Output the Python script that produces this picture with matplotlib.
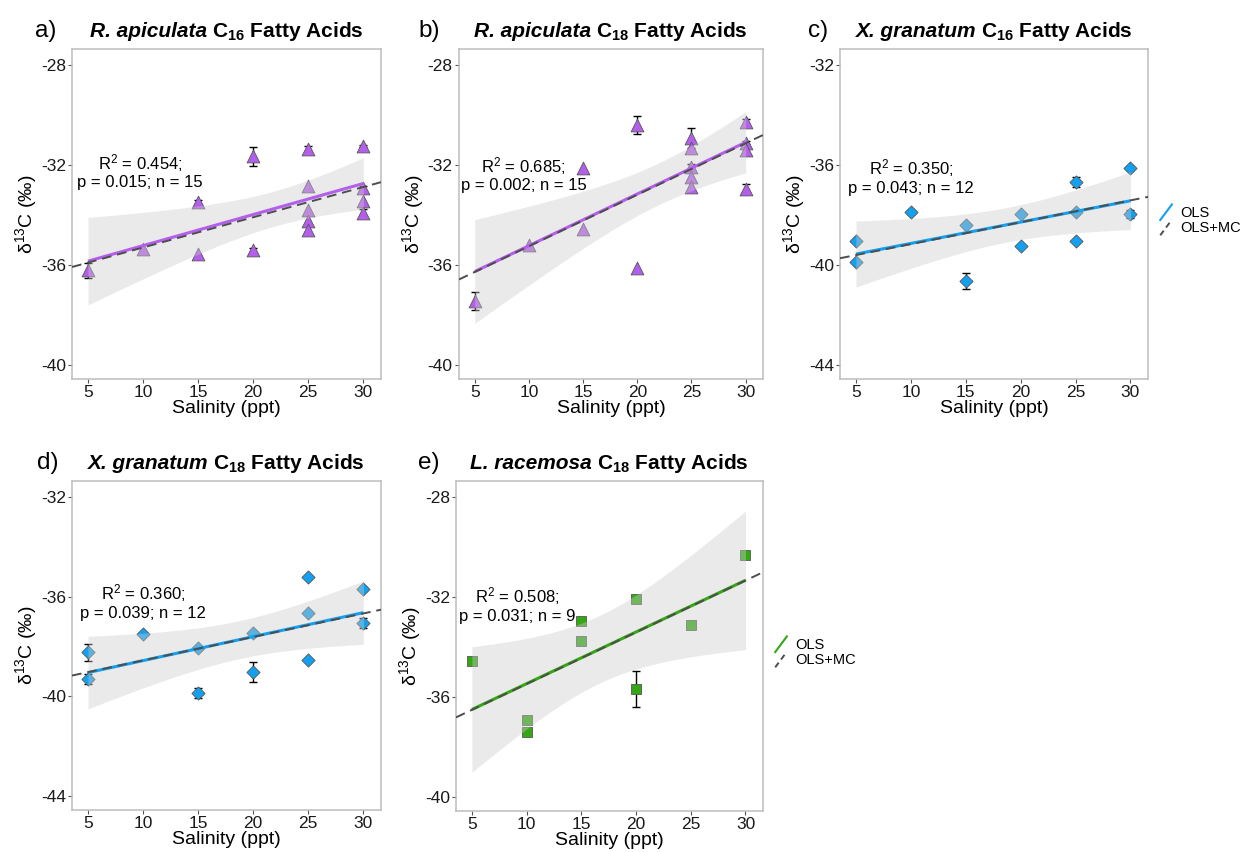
import numpy as np
import matplotlib
matplotlib.use("Agg")
import matplotlib.pyplot as plt
from matplotlib.lines import Line2D
from matplotlib.legend_handler import HandlerBase

plt.rcParams['font.family'] = ['Liberation Sans', 'DejaVu Sans']
plt.rcParams['mathtext.fontset'] = 'custom'
plt.rcParams['mathtext.rm'] = 'Liberation Sans'
plt.rcParams['mathtext.it'] = 'Liberation Sans:italic:bold'
plt.rcParams['mathtext.bf'] = 'Liberation Sans:bold'
plt.rcParams['mathtext.default'] = 'regular'

#%% data: salinity (ppt), d13C (permil), SD of replicates (0 = no bar)

ra16_sal = [5, 10, 15, 15, 20, 20, 25, 25, 25, 25, 25, 30, 30, 30, 30]
ra16_d13c = [-36.2, -35.36, -33.48, -35.56, -31.64, -35.4, -31.36, -32.84,
             -33.8, -34.24, -34.6, -31.24, -32.92, -33.44, -33.92]
ra16_err = [0.3, 0, 0.08, 0, 0.38, 0.08, 0.12, 0, 0, 0, 0, 0.05, 0.1, 0, 0.15]
ra16_mc = (0.121, -36.51)   # slope, intercept of the OLS+MC fit

ra18_sal = [5, 10, 15, 15, 20, 20, 25, 25, 25, 25, 25, 30, 30, 30, 30]
ra18_d13c = [-37.44, -35.2, -32.1, -34.56, -30.4, -36.1, -30.9, -31.33,
             -32.08, -32.48, -32.88, -30.27, -31.1, -31.4, -32.95]
ra18_err = [0.37, 0, 0, 0, 0.35, 0, 0.4, 0, 0.12, 0, 0, 0.12, 0.05, 0, 0.2]
ra18_mc = (0.206, -37.31)

xg16_sal = [5, 5, 10, 15, 15, 20, 20, 25, 25, 25, 30, 30]
xg16_d13c = [-39.04, -39.87, -37.87, -38.4, -40.64, -37.97, -39.24, -36.67,
             -37.87, -39.04, -36.13, -37.95]
xg16_err = [0, 0, 0.08, 0, 0.33, 0, 0, 0.2, 0, 0, 0.08, 0.15]
xg16_mc = (0.0875, -40.04)

xg18_sal = [5, 5, 10, 15, 15, 20, 20, 25, 25, 25, 30, 30]
xg18_d13c = [-38.24, -39.31, -37.5, -38.07, -39.88, -37.47, -39.04, -35.21,
             -36.67, -38.53, -35.7, -37.07]
xg18_err = [0.33, 0.2, 0, 0, 0.2, 0.08, 0.4, 0, 0, 0, 0.08, 0.2]
xg18_mc = (0.0942, -39.50)

lr18_sal = [5, 10, 10, 15, 15, 20, 20, 25, 30]
lr18_d13c = [-34.55, -36.9, -37.4, -32.97, -33.77, -32.09, -35.67, -33.12, -30.33]
lr18_err = [0.08, 0, 0, 0.1, 0, 0.08, 0.73, 0.1, 0.08]
lr18_mc = (0.207, -37.55)

stats_txt = ["R$^2$ = 0.454;\np = 0.015; n = 15",
             "R$^2$ = 0.685;\np = 0.002; n = 15",
             "R$^2$ = 0.350;\np = 0.043; n = 12",
             "R$^2$ = 0.360;\np = 0.039; n = 12",
             "R$^2$ = 0.508;\np = 0.031; n = 9"]
stats_xy = [(9.74, -32.24), (9.52, -32.36), (10.03, -36.45), (10.0, -36.2), (9.12, -32.29)]

species = ["R. apiculata", "R. apiculata", "X. granatum", "X. granatum", "L. racemosa"]
fa_label = [r"$\mathbf{C_{16}}$ Fatty Acids", r"$\mathbf{C_{18}}$ Fatty Acids",
            r"$\mathbf{C_{16}}$ Fatty Acids", r"$\mathbf{C_{18}}$ Fatty Acids",
            r"$\mathbf{C_{18}}$ Fatty Acids"]
tags = ["a)", "b)", "c)", "d)", "e)"]

yticks_hi = [-40, -36, -32, -28]
yticks_lo = [-44, -40, -36, -32]
xticks = [5, 10, 15, 20, 25, 30]

PURPLE = '#B45FEB'
BLUE = '#14A0F0'
GREEN = '#34A814'
MC_GREY = '#4D4D4D'
XLIM = (3.55, 31.6)

# two-sided 95% t quantiles by residual df
T_CRIT = {13: 2.1604, 10: 2.2281, 7: 2.3646}

W, H = 1242, 852
fig = plt.figure(figsize=(W / 100, H / 100), dpi=100)
renderer = fig.canvas.get_renderer()


def px_axes(l, t, r, b):
    return fig.add_axes([l / W, 1 - b / H, (r - l) / W, (b - t) / H])


class SlashKey(HandlerBase):
    # legend key drawn as a short diagonal, like ggplot's abline key
    def create_artists(self, legend, orig_handle, xdescent, ydescent,
                       width, height, fontsize, trans):
        seg = Line2D([-xdescent + 0.1 * width, -xdescent + 0.9 * width],
                     [-ydescent - 0.15 * height, -ydescent + 1.05 * height])
        self.update_prop(seg, orig_handle, legend)
        seg.set_transform(trans)
        return [seg]


def panel_title(ax, sp, rest, pad_px=12, gap_px=5, size=15):
    # italic species name + upright rest, centred together over the axes
    bb = ax.get_window_extent(renderer)
    y = 1 + pad_px / bb.height
    t1 = ax.text(0, y, sp, transform=ax.transAxes, fontsize=size, fontweight='bold',
                 fontstyle='italic', ha='left', va='baseline')
    t2 = ax.text(0, y, rest, transform=ax.transAxes, fontsize=size, fontweight='bold',
                 ha='left', va='baseline')
    w1 = t1.get_window_extent(renderer).width
    w2 = t2.get_window_extent(renderer).width
    x0 = (bb.width - (w1 + gap_px + w2)) / 2
    t1.set_x(x0 / bb.width)
    t2.set_x((x0 + w1 + gap_px) / bb.width)


def draw_panel(ax, sal, d13c, err, mc, marker, size, color, yticks):
    sal = np.asarray(sal, float)
    d13c = np.asarray(d13c, float)
    err = np.asarray(err, float)
    bar = err > 0
    ax.errorbar(sal[bar], d13c[bar], yerr=err[bar], fmt='none', ecolor='black',
                elinewidth=1.0, capsize=3, capthick=1.0, zorder=2)
    ax.scatter(sal, d13c, marker=marker, s=size, c=color, edgecolors='#555555',
               linewidths=0.6, zorder=3)

    # OLS fit with 95% confidence band
    n = len(sal)
    slope, icpt = np.polyfit(sal, d13c, 1)
    xs = np.linspace(sal.min(), sal.max(), 120)
    fit = icpt + slope * xs
    resid = d13c - (icpt + slope * sal)
    s = np.sqrt(np.sum(resid ** 2) / (n - 2))
    sxx = np.sum((sal - sal.mean()) ** 2)
    half = T_CRIT[n - 2] * s * np.sqrt(1 / n + (xs - sal.mean()) ** 2 / sxx)
    ax.fill_between(xs, fit - half, fit + half, color='#CCCCCC', alpha=0.4,
                    lw=0, zorder=4)
    ax.plot(xs, fit, color=color, lw=2.2, zorder=5, solid_capstyle='butt')

    # OLS+MC line across the full panel
    xl = np.array(XLIM)
    ax.plot(xl, mc[1] + mc[0] * xl, color=MC_GREY, lw=1.4, ls=(0, (5, 3)), zorder=6)

    ax.set_xlim(*XLIM)
    ax.set_ylim(yticks[0] - 0.56, yticks[-1] + 0.64)
    ax.set_xticks(xticks)
    ax.set_yticks(yticks)
    ax.set_yticklabels([str(v) for v in yticks])
    for sp in ax.spines.values():
        sp.set_color('#BDBDBD')
        sp.set_linewidth(1.1)
    ax.tick_params(length=3, width=0.8, color='#555555', pad=1.5,
                   labelsize=12.5, labelcolor='#1A1A1A')
    ax.set_xlabel('Salinity (ppt)', fontsize=14, labelpad=0)
    ax.set_ylabel('δ$^{13}$C (‰)', fontsize=14, labelpad=1)


panels = [
    (px_axes(72, 49, 381, 379), ra16_sal, ra16_d13c, ra16_err, ra16_mc, '^', 85, PURPLE, yticks_hi),
    (px_axes(459, 49, 763, 379), ra18_sal, ra18_d13c, ra18_err, ra18_mc, '^', 85, PURPLE, yticks_hi),
    (px_axes(840, 49, 1148, 379), xg16_sal, xg16_d13c, xg16_err, xg16_mc, 'D', 45, BLUE, yticks_lo),
    (px_axes(72, 481, 381, 810), xg18_sal, xg18_d13c, xg18_err, xg18_mc, 'D', 45, BLUE, yticks_lo),
    (px_axes(456, 481, 763, 811), lr18_sal, lr18_d13c, lr18_err, lr18_mc, 's', 50, GREEN, yticks_hi),
]
tag_px = [(35, 37), (418, 37), (808, 37), (37, 469), (418, 469)]

for i, (ax, sal, d13c, err, mc, mk, sz, col, yt) in enumerate(panels):
    draw_panel(ax, sal, d13c, err, mc, mk, sz, col, yt)
    panel_title(ax, species[i], fa_label[i])
    ax.text(stats_xy[i][0], stats_xy[i][1], stats_txt[i], ha='center', va='center',
            fontsize=12, linespacing=1.15, zorder=7)
    fig.text(tag_px[i][0] / W, 1 - tag_px[i][1] / H, tags[i], fontsize=17.5,
             ha='left', va='baseline')

# legends sit to the right of panels c and e
for ax, col in [(panels[2][0], BLUE), (panels[4][0], GREEN)]:
    handles = [Line2D([], [], color=col, lw=1.5),
               Line2D([], [], color=MC_GREY, lw=1.4, ls=(0, (3, 2)))]
    ax.legend(handles, ['OLS', 'OLS+MC'], handler_map={Line2D: SlashKey()},
              loc='center left', bbox_to_anchor=(1.035, 0.482), frameon=False,
              fontsize=10.5, handlelength=1.0, handleheight=1.0,
              handletextpad=0.45, labelspacing=0.05, borderpad=0, borderaxespad=0)

fig.savefig('out.png', dpi=100)
